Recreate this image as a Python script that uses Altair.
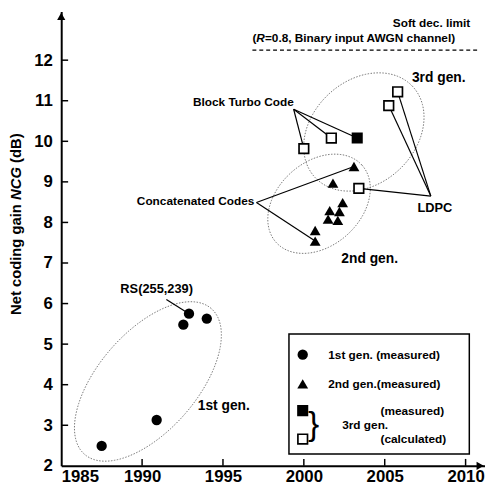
import altair as alt
import pandas as pd
import numpy as np

# ---------------- data ----------------
gen1_year = [1987.5, 1990.9, 1992.55, 1992.9, 1994.0]
gen1_ncg = [2.49, 3.13, 5.48, 5.75, 5.63]

gen2_year = [2000.7, 2000.7, 2001.5, 2002.1, 2001.6, 2002.2, 2002.4, 2001.8, 2003.1]
gen2_ncg = [7.54, 7.80, 8.08, 8.05, 8.29, 8.27, 8.49, 8.97, 9.38]

gen3_meas_year = [2003.3]
gen3_meas_ncg = [10.08]

gen3_calc_year = [2000.0, 2001.7, 2003.4, 2005.25, 2005.8]
gen3_calc_ncg = [9.82, 10.08, 8.84, 10.88, 11.22]

# annotation leader lines: label anchor -> target point
lead_from_x = [1991.5, 1999.37, 1999.37, 1999.37, 1997.07, 1997.07, 2007.85, 2007.85, 2007.85]
lead_from_y = [6.10, 10.79, 10.79, 10.79, 8.49, 8.49, 8.65, 8.65, 8.65]
lead_to_x = [1992.9, 2000.0, 2001.7, 2003.3, 2003.1, 2000.7, 2005.25, 2005.8, 2003.4]
lead_to_y = [5.75, 9.82, 10.08, 10.08, 9.38, 7.54, 10.88, 11.22, 8.84]

# generation ellipses (center in data units, semi-axes in px, angle in deg)
ell_name = ["1st", "2nd", "3rd"]
ell_cx = [1990.36, 2000.94, 2003.71]
ell_cy = [4.08, 8.46, 10.23]
ell_a = [98, 58.6, 67.7]
ell_b = [50, 42.5, 52.4]
ell_ang = [49, 42, 43]

# texts
right_text = ["Block Turbo Code", "Concatenated Codes", "Soft dec. limit"]
right_x = [1999.38, 1996.94, 2010.29]
right_y = [10.96, 8.53, 12.91]

# "(R=0.8, Binary input AWGN channel)" with italic R, drawn in pieces from its left end
limit_note = ["(", "R", "=0.8, Binary input AWGN channel)"]
limit_note_style = ["normal", "italic", "normal"]
limit_note_dx = [0, 4.0, 12.7]
limit_note_x = 1996.82
limit_note_y = 12.54

center_text = ["LDPC", "RS(255,239)"]
center_x = [2008.1, 1990.9]
center_y = [8.36, 6.35]

gen_text = ["1st gen.", "2nd gen.", "3rd gen."]
gen_x = [1995.05, 2004.07, 2008.34]
gen_y = [3.48, 7.10, 11.55]

limit_x = [1996.82, 2010.78]
limit_y = 12.25

# y-axis title pieces (NCG in italics), drawn upward from its lower end
ytitle = ["Net coding gain", "NCG", "(dB)"]
ytitle_style = ["normal", "italic", "normal"]
ytitle_dx = [0, 116.7, 154.2]
ytitle_y = 5.72

# legend
legend_box = [1999.08, 2010.23, 5.25, 2.29]
legend_sym_x = 1999.93
legend_sym_y = [4.74, 4.02, 3.36, 2.66]
legend_text = ["1st gen. (measured)", "2nd gen.(measured)", "(measured)", "(calculated)", "3rd gen."]
legend_text_x = [2001.51, 2001.51, 2004.74, 2004.74, 2002.37]
legend_text_y = [4.74, 4.02, 3.36, 2.66, 3.0]

x_ticks = [1985, 1990, 1995, 2000, 2005, 2010]
y_ticks = [2, 3, 4, 5, 6, 7, 8, 9, 10, 11, 12]

# ---------------- geometry ----------------
X_DOMAIN = [1985, 2011.2]
Y_DOMAIN = [2, 13.2]
W, H = 430, 461
PX_X = W / (X_DOMAIN[1] - X_DOMAIN[0])
PX_Y = H / (Y_DOMAIN[1] - Y_DOMAIN[0])
FONT = "Liberation Sans"

xs = alt.Scale(domain=X_DOMAIN, nice=False, zero=False)
ys = alt.Scale(domain=Y_DOMAIN, nice=False, zero=False)
x_axis = alt.Axis(values=x_ticks, format="d", title=None, labelPadding=3)
y_axis = alt.Axis(values=y_ticks, format="d", title=None, labelPadding=9)


def X(f="x"):
    return alt.X(f + ":Q", scale=xs, axis=x_axis)


def Y(f="y"):
    return alt.Y(f + ":Q", scale=ys, axis=y_axis)


layers = []

# ellipses
rows = []
for n, cx, cy, a, b, ang in zip(ell_name, ell_cx, ell_cy, ell_a, ell_b, ell_ang):
    th = np.deg2rad(ang)
    ux, uy = a * np.cos(th) / PX_X, a * np.sin(th) / PX_Y
    vx, vy = -b * np.sin(th) / PX_X, b * np.cos(th) / PX_Y
    for i, t in enumerate(np.linspace(0, 2 * np.pi, 145)):
        rows.append({"e": n, "i": i, "x": cx + ux * np.cos(t) + vx * np.sin(t),
                     "y": cy + uy * np.cos(t) + vy * np.sin(t)})
ell_df = pd.DataFrame(rows)
layers.append(alt.Chart(ell_df).mark_line(color="#777", strokeWidth=1, strokeDash=[1.5, 1.5]).encode(
    x=X(), y=Y(), detail="e:N", order="i:Q"))

# leader lines
lead_df = pd.DataFrame({"x": lead_from_x, "y": lead_from_y, "x2": lead_to_x, "y2": lead_to_y})
layers.append(alt.Chart(lead_df).mark_rule(color="black", strokeWidth=1.2).encode(
    x=X(), y=Y(), x2="x2:Q", y2="y2:Q"))

# soft decision limit
lim_df = pd.DataFrame({"x": [limit_x[0]], "x2": [limit_x[1]], "y": [limit_y]})
layers.append(alt.Chart(lim_df).mark_rule(color="black", strokeWidth=1.3, strokeDash=[4, 3]).encode(
    x=X(), x2="x2:Q", y=Y()))

# inner ticks
xt_df = pd.DataFrame({"x": x_ticks[1:]})
layers.append(alt.Chart(xt_df).mark_rule(color="black", strokeWidth=1.5).encode(
    x=X(), y=alt.value(H), y2=alt.value(H - 7)))
yt_df = pd.DataFrame({"y": y_ticks[1:]})
layers.append(alt.Chart(yt_df).mark_rule(color="black", strokeWidth=1.5).encode(
    y=Y(), x=alt.value(0), x2=alt.value(7)))

# axis arrows
arr_df = pd.DataFrame({"x": [X_DOMAIN[0]], "y": [Y_DOMAIN[1] - 0.12]})
layers.append(alt.Chart(arr_df).mark_point(shape="triangle-up", filled=True, color="black", size=70, opacity=1).encode(
    x=X(), y=Y()))
arr2_df = pd.DataFrame({"x": [X_DOMAIN[1] - 0.3], "y": [Y_DOMAIN[0]]})
layers.append(alt.Chart(arr2_df).mark_point(shape="triangle-right", filled=True, color="black", size=70, opacity=1).encode(
    x=X(), y=Y()))

# data points
CIRC, TRI, SQ = 110, 120, 95
g1 = pd.DataFrame({"x": gen1_year, "y": gen1_ncg})
layers.append(alt.Chart(g1).mark_point(shape="circle", filled=True, color="black", size=CIRC, opacity=1).encode(
    x=X(), y=Y()))
g2 = pd.DataFrame({"x": gen2_year, "y": gen2_ncg})
layers.append(alt.Chart(g2).mark_point(shape="triangle-up", filled=True, color="black", size=TRI, opacity=1).encode(
    x=X(), y=Y()))
g3m = pd.DataFrame({"x": gen3_meas_year, "y": gen3_meas_ncg})
layers.append(alt.Chart(g3m).mark_point(shape="square", filled=True, fill="black", stroke="black", strokeWidth=1.5,
                                        size=SQ, opacity=1).encode(x=X(), y=Y()))
g3c = pd.DataFrame({"x": gen3_calc_year, "y": gen3_calc_ncg})
layers.append(alt.Chart(g3c).mark_point(shape="square", filled=True, fill="white", stroke="black", strokeWidth=1.7,
                                        size=SQ, opacity=1).encode(x=X(), y=Y()))

# text annotations
rt = pd.DataFrame({"x": right_x, "y": right_y, "t": right_text})
layers.append(alt.Chart(rt).mark_text(align="right", baseline="middle", font=FONT, fontWeight="bold",
                                      fontSize=12, color="black").encode(x=X(), y=Y(), text="t:N"))
for piece, style, dx in zip(limit_note, limit_note_style, limit_note_dx):
    pdf = pd.DataFrame({"x": [limit_note_x], "y": [limit_note_y], "t": [piece]})
    layers.append(alt.Chart(pdf).mark_text(align="left", baseline="middle", font=FONT, fontWeight="bold",
                                           fontStyle=style, dx=dx, fontSize=12, color="black").encode(
        x=X(), y=Y(), text="t:N"))
ct = pd.DataFrame({"x": center_x, "y": center_y, "t": center_text})
layers.append(alt.Chart(ct).mark_text(align="center", baseline="middle", font=FONT, fontWeight="bold",
                                      fontSize=13, color="black").encode(x=X(), y=Y(), text="t:N"))
gt = pd.DataFrame({"x": gen_x, "y": gen_y, "t": gen_text})
layers.append(alt.Chart(gt).mark_text(align="center", baseline="middle", font=FONT, fontWeight="bold",
                                      fontSize=14, color="black").encode(x=X(), y=Y(), text="t:N"))

# y-axis title
for piece, style, dx in zip(ytitle, ytitle_style, ytitle_dx):
    tdf = pd.DataFrame({"y": [ytitle_y], "t": [piece]})
    layers.append(alt.Chart(tdf).mark_text(align="left", baseline="middle", font=FONT, fontWeight="bold",
                                           fontStyle=style, angle=270, dx=dx, fontSize=15, color="black").encode(
        x=alt.value(-46), y=Y(), text="t:N"))

# legend
box = pd.DataFrame({"x": [legend_box[0]], "x2": [legend_box[1]], "y": [legend_box[2]], "y2": [legend_box[3]]})
layers.append(alt.Chart(box).mark_rect(fill="white", stroke="black", strokeWidth=1.5).encode(
    x=X(), x2="x2:Q", y=Y(), y2="y2:Q"))
lc = pd.DataFrame({"x": [legend_sym_x], "y": [legend_sym_y[0]]})
layers.append(alt.Chart(lc).mark_point(shape="circle", filled=True, color="black", size=CIRC, opacity=1).encode(
    x=X(), y=Y()))
ltr = pd.DataFrame({"x": [legend_sym_x], "y": [legend_sym_y[1]]})
layers.append(alt.Chart(ltr).mark_point(shape="triangle-up", filled=True, color="black", size=TRI, opacity=1).encode(
    x=X(), y=Y()))
lsm = pd.DataFrame({"x": [legend_sym_x], "y": [legend_sym_y[2]]})
layers.append(alt.Chart(lsm).mark_point(shape="square", filled=True, fill="black", stroke="black", strokeWidth=1.5,
                                        size=SQ, opacity=1).encode(x=X(), y=Y()))
lsc = pd.DataFrame({"x": [legend_sym_x], "y": [legend_sym_y[3]]})
layers.append(alt.Chart(lsc).mark_point(shape="square", filled=True, fill="white", stroke="black", strokeWidth=1.7,
                                        size=SQ, opacity=1).encode(x=X(), y=Y()))
lt = pd.DataFrame({"x": legend_text_x, "y": legend_text_y, "t": legend_text})
layers.append(alt.Chart(lt).mark_text(align="left", baseline="middle", font=FONT, fontWeight="bold",
                                      fontSize=12, color="black").encode(x=X(), y=Y(), text="t:N"))
br = pd.DataFrame({"x": [2000.6], "y": [3.0], "t": ["}"]})
layers.append(alt.Chart(br).mark_text(align="center", baseline="middle", font=FONT, fontWeight="normal",
                                      fontSize=34, color="black").encode(x=X(), y=Y(), text="t:N"))

chart = alt.layer(*layers).properties(
    width=W, height=H,
    autosize=alt.AutoSizeParams(type="none"),
    padding={"left": 54, "top": 0, "right": 0, "bottom": 22},
).configure_view(stroke=None).configure_axis(
    grid=False, ticks=False, domainColor="black", domainWidth=2,
    labelFont=FONT, labelFontSize=17, labelFontWeight="bold", labelColor="black",
)

chart.save("out.html", embed_options={"renderer": "svg", "actions": False})
